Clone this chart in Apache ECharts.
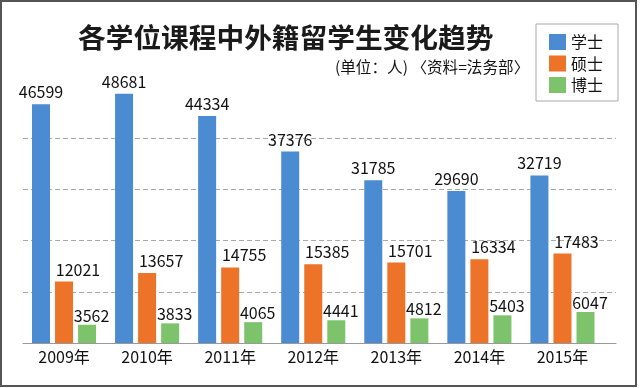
<!DOCTYPE html>
<html><head><meta charset="utf-8">
<script src="https://cdn.jsdelivr.net/npm/echarts@6/dist/echarts.min.js"></script>
<style>html,body{margin:0;padding:0;background:#fff}#c{width:640px;height:388px}</style>
</head><body><div id="c"></div>
<script>
const categories = ['2009年','2010年','2011年','2012年','2013年','2014年','2015年'];
const bachelor = [46599, 48681, 44334, 37376, 31785, 29690, 32719];
const master = [12021, 13657, 14755, 15385, 15701, 16334, 17483];
const doctor = [3562, 3833, 4065, 4441, 4812, 5403, 6047];
const seriesNames = ['学士','硕士','博士'];
const titleText = '各学位课程中外籍留学生变化趋势';
const subText = '(单位：人) 〈资料=法务部〉';

const FONT = '"Noto Sans CJK SC", "Noto Sans", sans-serif';
const colors = ['#4a8bd1', '#ec7328', '#7dc36b'];
const chart = echarts.init(document.getElementById('c'), null, {renderer: 'canvas'});
const lbl = (dist, off) => ({show: true, position: 'top', distance: dist, offset: off,
  fontSize: 16, fontFamily: FONT, color: '#111'});
chart.setOption({
  animation: false,
  backgroundColor: '#fff',
  color: colors,
  textStyle: {fontFamily: FONT},
  grid: [
    {left: 22.5, right: 36, top: 92, bottom: 45},
    {left: 23, right: 24, top: 138.1, bottom: 45}
  ],
  xAxis: [
    {type: 'category', gridIndex: 0, data: categories,
     axisLine: {show: false}, axisTick: {show: false},
     axisLabel: {fontSize: 16, color: '#111', margin: 6, fontFamily: FONT}},
    {type: 'value', gridIndex: 1, min: 0, max: 1, show: true,
     axisLine: {show: true, onZero: false, lineStyle: {color: '#999', width: 1}},
     axisTick: {show: false}, axisLabel: {show: false}, splitLine: {show: false}}
  ],
  yAxis: [
    {type: 'value', gridIndex: 0, min: 0, max: 49000, interval: 10000,
     axisLine: {show: false}, axisTick: {show: false}, axisLabel: {show: false}, splitLine: {show: false}},
    {type: 'value', gridIndex: 1, min: 0, max: 40000, interval: 10000,
     axisLine: {show: false}, axisTick: {show: false}, axisLabel: {show: false},
     splitLine: {show: true, lineStyle: {color: '#aaa', type: [5, 3], width: 1}}}
  ],
  legend: {
    orient: 'vertical', left: 536, top: 24,
    data: seriesNames,
    itemWidth: 17, itemHeight: 16, itemGap: 5.5,
    padding: [10, 15, 8, 13],
    backgroundColor: '#fff', borderColor: '#aaa', borderWidth: 1,
    textStyle: {fontSize: 16, color: '#111', fontFamily: FONT},
    icon: 'rect'
  },
  graphic: [
    {type: 'rect', shape: {x: 1, y: 1, width: 635, height: 385},
     style: {fill: 'none', stroke: '#555', lineWidth: 2}, z: 100, silent: true},
    {type: 'text', x: 78, y: 37,
     style: {text: titleText, font: 'bold 27.7px ' + FONT, fill: '#1a1a1a', textVerticalAlign: 'middle'}},
    {type: 'text', x: 335, y: 67,
     style: {text: subText, font: '15.6px ' + FONT, fill: '#111', textVerticalAlign: 'middle'}}
  ],
  series: [
    {name: seriesNames[0], type: 'bar', xAxisIndex: 0, yAxisIndex: 0, data: bachelor,
     barWidth: 18, barGap: '28%', label: lbl(4, [0, 0])},
    {name: seriesNames[1], type: 'bar', xAxisIndex: 0, yAxisIndex: 0, data: master,
     barWidth: 18, barGap: '28%', label: lbl(4, [14, 0])},
    {name: seriesNames[2], type: 'bar', xAxisIndex: 0, yAxisIndex: 0, data: doctor,
     barWidth: 18, barGap: '28%', label: lbl(1, [4.5, 0])}
  ]
});
</script></body></html>
